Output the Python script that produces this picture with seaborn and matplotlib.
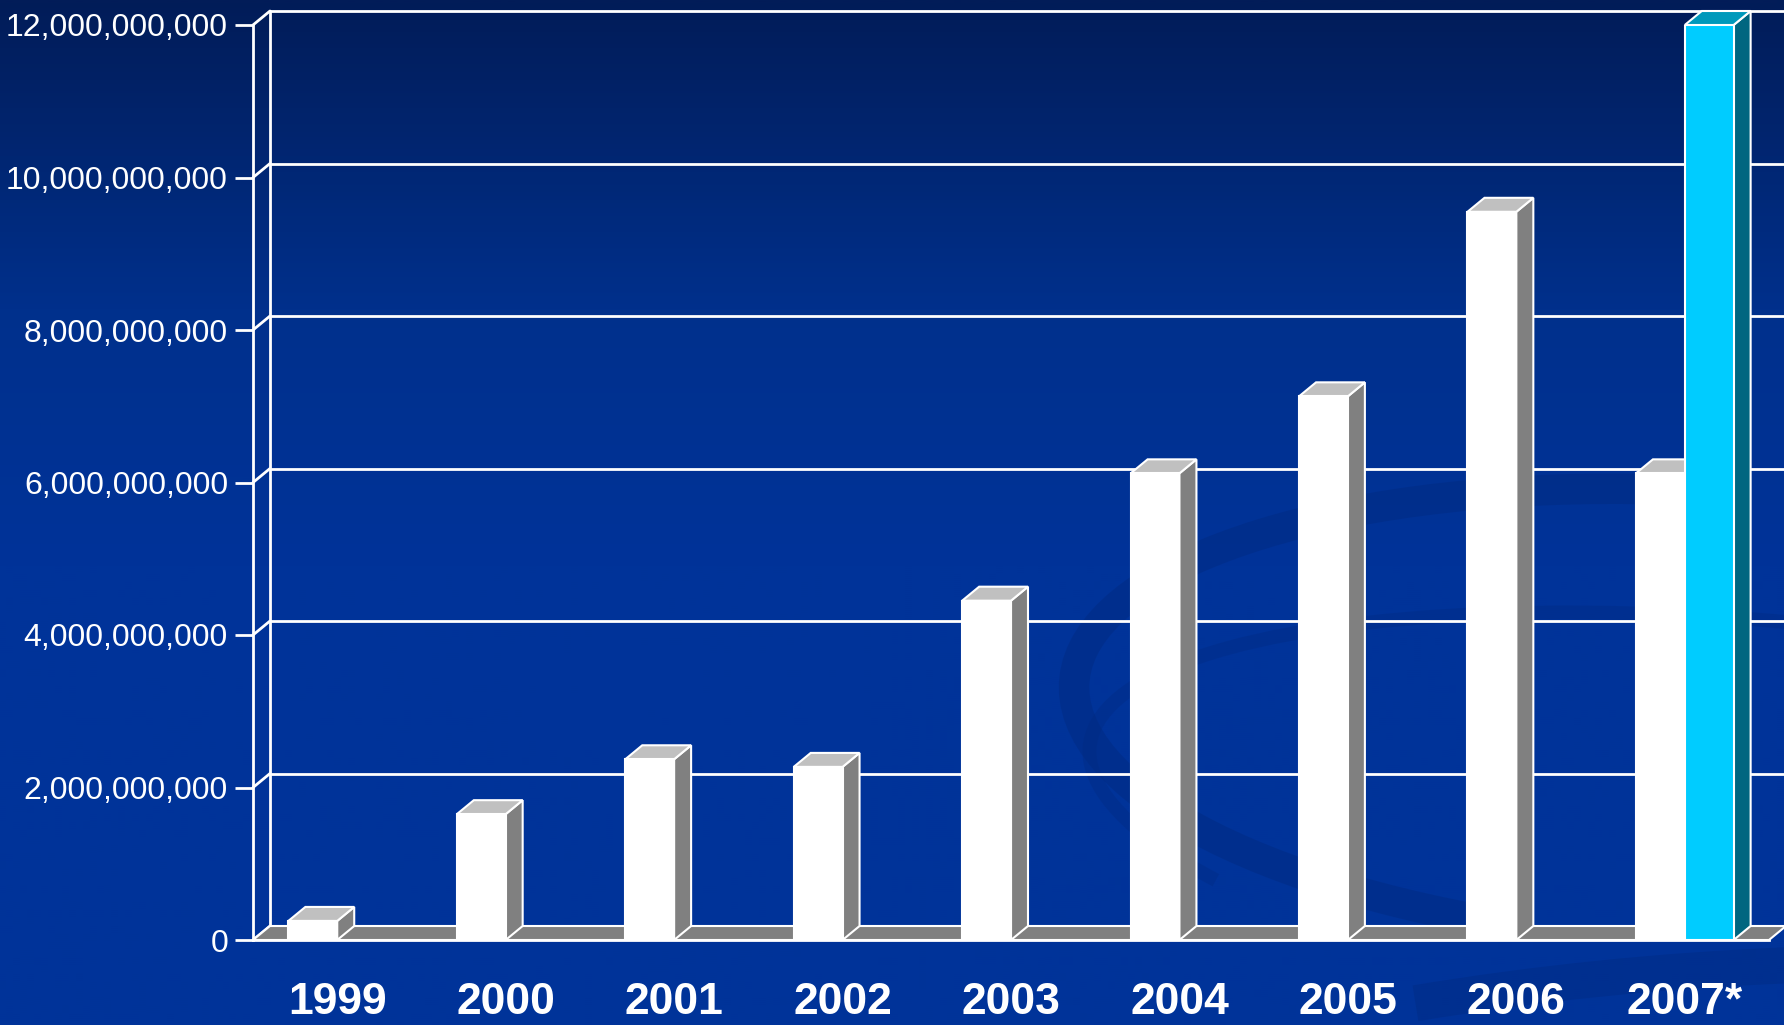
import numpy as np
import pandas as pd
import matplotlib
matplotlib.use("Agg")
import matplotlib.pyplot as plt
import seaborn as sns
from matplotlib.patches import Polygon, Arc
from matplotlib.colors import LinearSegmentedColormap

# data
years = ["1999", "2000", "2001", "2002", "2003", "2004", "2005", "2006", "2007*"]
actual = [0.25e9, 1.65e9, 2.37e9, 2.27e9, 4.45e9, 6.12e9, 7.13e9, 9.55e9, 6.12e9]
proj_years = ["2007*"]
projected = [12.0e9]
yticks = [0, 2e9, 4e9, 6e9, 8e9, 10e9, 12e9]

df = pd.DataFrame({
    "year": years + proj_years,
    "value": actual + projected,
    "series": ["actual"] * len(years) + ["projected"] * len(proj_years),
})

sns.set_theme(style="white")
plt.rcParams['font.family'] = ['Liberation Sans', 'DejaVu Sans']

W, H = 1784, 1025
fig = plt.figure(figsize=(W / 100, H / 100), dpi=100)

# background gradient, dark navy at the top
bg = fig.add_axes([0, 0, 1, 1], zorder=-10)
cmap = LinearSegmentedColormap.from_list(
    "bgc", [(0, "#021c58"), (0.3, "#00308c"), (0.55, "#003399"), (1, "#003399")])
grad = np.linspace(0, 1, 512).reshape(-1, 1)
bg.imshow(grad, aspect="auto", cmap=cmap, extent=[0, 1, 0, 1], origin="upper")
# faint swirl decoration (partial arcs)
bg.add_patch(Arc((0.95, 0.30), 0.70, 0.44, angle=-8, theta1=95, theta2=250,
                 edgecolor="#002a80", lw=22, alpha=0.45))
bg.add_patch(Arc((1.05, 0.18), 0.90, 0.40, angle=-14, theta1=110, theta2=200,
                 edgecolor="#002a80", lw=10, alpha=0.35))
bg.add_patch(Arc((0.95, -0.25), 1.10, 0.60, angle=10, theta1=40, theta2=110,
                 edgecolor="#002a80", lw=26, alpha=0.4))
bg.set_xlim(0, 1)
bg.set_ylim(0, 1)
bg.axis("off")

ax = fig.add_axes([253 / W, 1 - 940 / H, (1769 - 253) / W, (940 - 25) / H])
ax.patch.set_alpha(0)

sns.barplot(data=df, x="year", y="value", hue="series", order=years,
            hue_order=["actual", "projected"],
            palette={"actual": "#ffffff", "projected": "#00ccff"},
            saturation=1, width=0.58, errorbar=None, legend=False,
            edgecolor="white", linewidth=1.5, ax=ax)

ax.set_xlim(-0.5, len(years) - 0.5)
ax.set_ylim(0, 12e9)

# depth of the fake 3d, in data units
ax_w = (1769 - 253)
ax_h = (940 - 25)
dx = 17 / ax_w * len(years)
dy = 14 / ax_h * 12e9
xl, xr = -0.5, len(years) - 0.5

# floor
ax.add_patch(Polygon([(xl, 0), (xr, 0), (xr + dx, dy), (xl + dx, dy)],
                     closed=True, facecolor="#808080", edgecolor="white",
                     lw=1.5, zorder=1, clip_on=False))
# back wall grid
for v in yticks:
    ax.plot([xl + dx, xr + dx + 0.2], [v + dy, v + dy], color="white", lw=2,
            zorder=0.5, clip_on=False)
    ax.plot([xl, xl + dx], [v, v + dy], color="white", lw=2, zorder=0.5, clip_on=False)
ax.plot([xl + dx, xl + dx], [dy, 12e9 + dy], color="white", lw=2, zorder=0.5, clip_on=False)

shades = [("#808080", "#c0c0c0"), ("#006680", "#0099bb")]
for i, cont in enumerate(ax.containers):
    side_c, top_c = shades[i]
    for p in cont.patches:
        h = p.get_height()
        if not np.isfinite(h) or h == 0:
            continue
        x0, w = p.get_x(), p.get_width()
        p.set_zorder(4 + 2 * i)
        ax.add_patch(Polygon([(x0 + w, 0), (x0 + w + dx, dy), (x0 + w + dx, h + dy), (x0 + w, h)],
                             closed=True, facecolor=side_c, edgecolor="white", lw=1.5,
                             zorder=3 + 2 * i, clip_on=False))
        ax.add_patch(Polygon([(x0, h), (x0 + dx, h + dy), (x0 + w + dx, h + dy), (x0 + w, h)],
                             closed=True, facecolor=top_c, edgecolor="white", lw=1.5,
                             zorder=3 + 2 * i, clip_on=False))

for s in ["top", "right"]:
    ax.spines[s].set_visible(False)
for s in ["left", "bottom"]:
    ax.spines[s].set_color("white")
    ax.spines[s].set_linewidth(2)
    ax.spines[s].set_zorder(2)

ax.set_xticks(np.arange(xl, xr + 0.01, 1))
ax.set_xticklabels([])
ax.set_xticks(range(len(years)), labels=years, minor=True)
ax.tick_params(axis="x", which="major", length=15, width=2, color="white", direction="out")
ax.tick_params(axis="x", which="minor", length=0, pad=30, labelsize=32, labelcolor="white")
for t in ax.get_xticklabels(minor=True):
    t.set_fontweight("bold")

ax.set_yticks(yticks)
ax.set_yticklabels([f"{v:,.0f}" for v in yticks])
ax.tick_params(axis="y", length=13, width=2, color="white", direction="out",
               labelsize=23, labelcolor="white", pad=5, left=True)
ax.set_xlabel("")
ax.set_ylabel("")

fig.savefig("out.png", dpi=100)
